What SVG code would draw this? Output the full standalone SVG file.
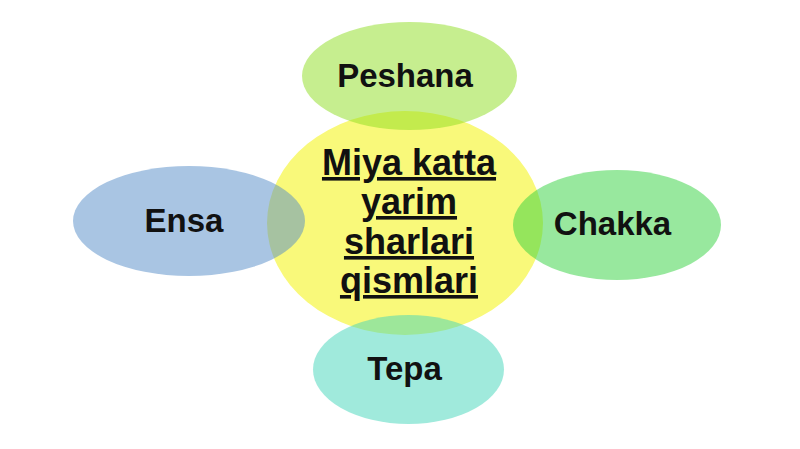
<svg xmlns="http://www.w3.org/2000/svg" width="800" height="449" viewBox="0 0 800 449">
<style>
.lbl{font-family:"Liberation Sans",Arial,sans-serif;font-weight:bold;font-size:33px;fill:#111;text-anchor:middle}
.ctr{font-family:"Liberation Sans",Arial,sans-serif;font-weight:bold;font-size:36px;fill:#111;text-anchor:middle;text-decoration:underline;text-decoration-thickness:2px}
.sat{fill-opacity:0.5}
</style>
<rect width="800" height="449" fill="#ffffff"/>
<g id="center">
<ellipse cx="405" cy="223" rx="138" ry="112" fill="#f9f97a"/>
</g>
<g id="peshana">
<ellipse class="sat" cx="409.5" cy="76" rx="107.5" ry="54" fill="#8ddd1f"/>
<text class="lbl" x="405" y="87">Peshana</text>
</g>
<g id="ensa">
<ellipse class="sat" cx="189" cy="221" rx="116" ry="55" fill="#538bc7"/>
<text class="lbl" x="184" y="232">Ensa</text>
</g>
<g id="chakka">
<ellipse class="sat" cx="617" cy="225" rx="104" ry="55" fill="#31d13d"/>
<text class="lbl" x="612.5" y="235">Chakka</text>
</g>
<g id="tepa">
<ellipse class="sat" cx="408.5" cy="369.5" rx="95.5" ry="54.5" fill="#41d5b9"/>
<text class="lbl" x="404.5" y="380">Tepa</text>
</g>
<g id="center-label">
<text class="ctr" x="409" y="175">Miya katta</text>
<text class="ctr" x="409" y="214">yarim</text>
<text class="ctr" x="409" y="254">sharlari</text>
<text class="ctr" x="409" y="293">qismlari</text>
</g>
<g id="connectors"></g>
</svg>
